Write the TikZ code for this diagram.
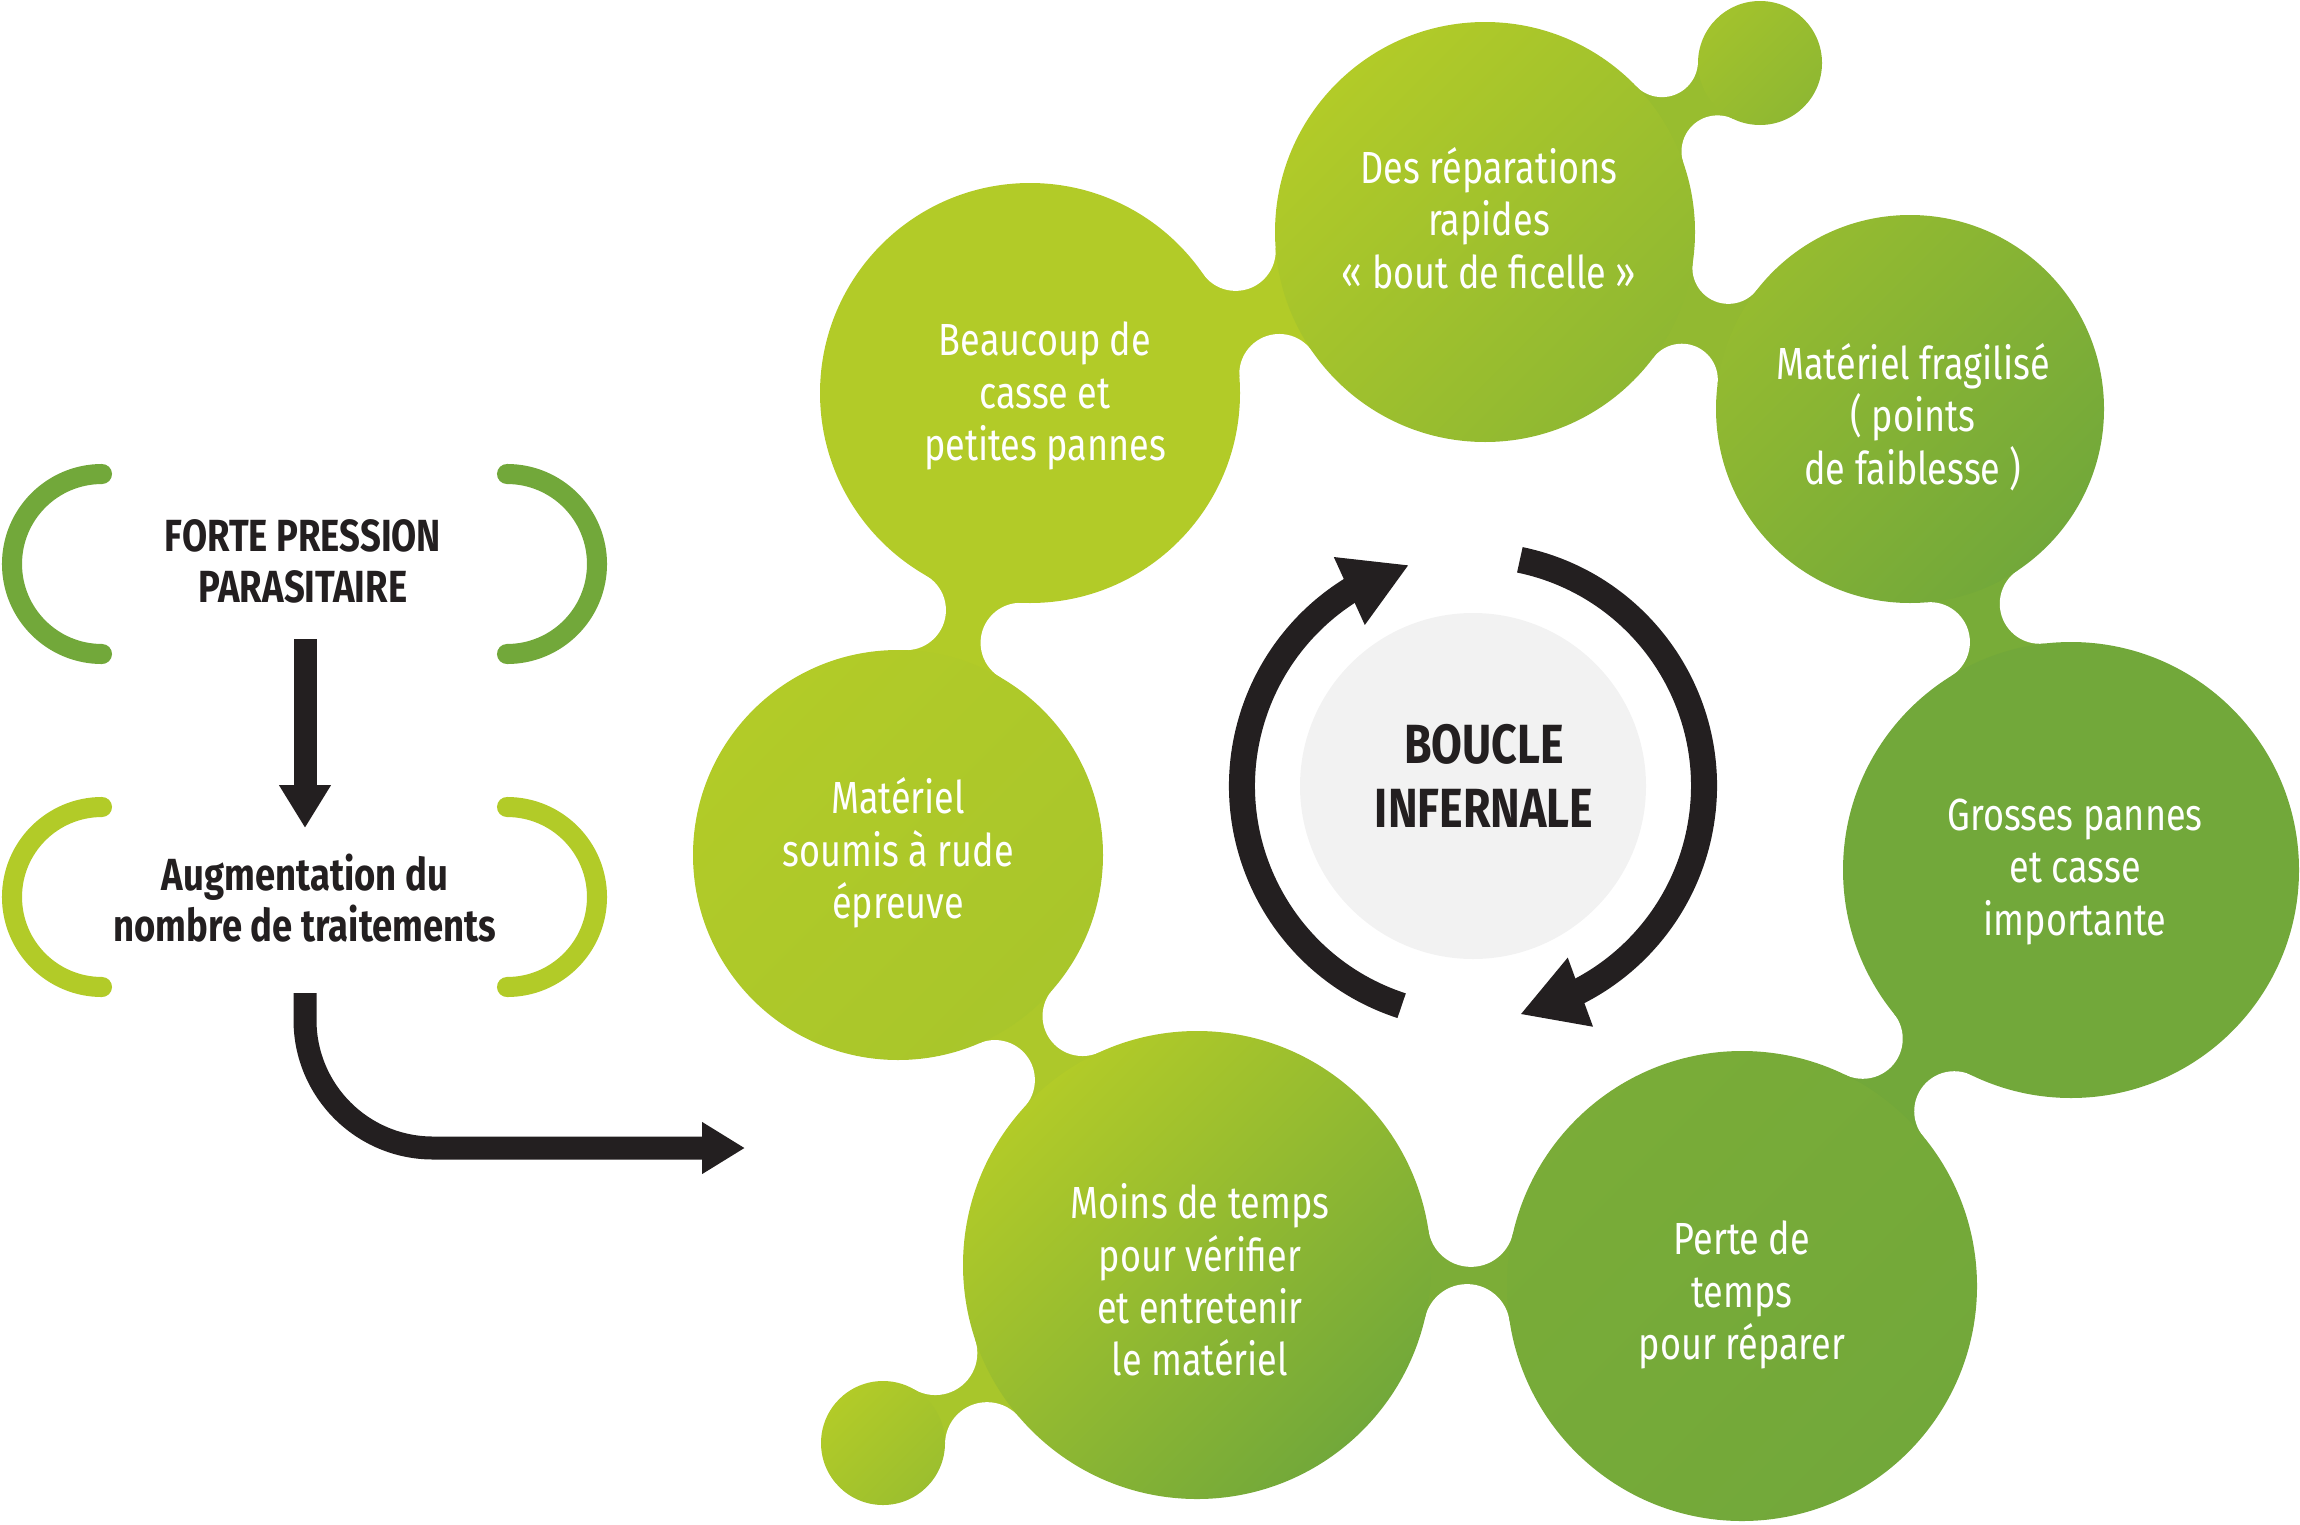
\documentclass[tikz,border=0pt]{standalone}
\usepackage{fontspec}
\setmainfont{Fira Sans}[FakeStretch=0.8]
\newfontfamily\headfont{Fira Sans}[FakeStretch=0.81]
\usetikzlibrary{calc,intersections,arrows.meta}
\definecolor{lg}{HTML}{B2CB28}
\definecolor{dg}{HTML}{72A83A}
\definecolor{ink}{HTML}{231F20}
\definecolor{pale}{HTML}{F2F2F2}

% neck between two circles: #1,#2 centres, #3,#4 radii, #5 cut-out radius, #6 colour, #7 id
\newcommand\blobneck[7]{%
  \path[name path=np#7a] (#1) circle[radius={#3+#5}];
  \path[name path=np#7b] (#2) circle[radius={#4+#5}];
  \path[name intersections={of=np#7a and np#7b, name=cx#7}];
  \fill[#6] (#1) -- (cx#7-1) -- (#2) -- (cx#7-2) -- cycle;
}

\begin{document}
\begin{tikzpicture}[x=0.01cm, y=-0.01cm,
  circtext/.style={text=white, align=center, inner sep=0pt,
    font=\fontsize{12.8}{14.9}\selectfont},
  headtext/.style={text=ink, align=center, inner sep=0pt,
    font=\headfont\bfseries\fontsize{12.8}{14.5}\selectfont},
  bigarrow/.style={draw=ink, line width=6.54pt, -{Triangle[length=12.2pt,width=13.9pt]}},
  loopline/.style={draw=ink, line width=7.4pt},
  bracket/.style={line width=5.7pt, line cap=round},
]
\useasboundingbox (0,0) rectangle (2300,1524);

% circle centres
\coordinate (c1) at (1485,232);
\coordinate (s1) at (1760,63);
\coordinate (c2) at (1030,393);
\coordinate (c3) at (1910,409);
\coordinate (c4) at (898,855);
\coordinate (c5) at (2071,870);
\coordinate (c6) at (1197,1265);
\coordinate (c7) at (1742,1286);
\coordinate (s2) at (883,1443);

% necks
\blobneck{c1}{c2}{210}{210}{40}{lg}{a}
\blobneck{c1}{s1}{210}{62}{36}{lg!60!dg}{b}
\blobneck{c1}{c3}{210}{194}{36}{lg!50!dg}{c}
\blobneck{c2}{c4}{210}{205}{40}{lg}{d}
\blobneck{c3}{c5}{194}{228}{40}{dg!90!lg}{e}
\blobneck{c4}{c6}{205}{234}{40}{lg!92!dg}{f}
\blobneck{c5}{c7}{228}{235}{40}{dg}{g}
\blobneck{c6}{c7}{234}{235}{43}{dg!85!lg}{h}
\blobneck{c6}{s2}{234}{62}{42}{lg!85!dg}{i}

% concave cut-outs
\foreach \k/\r in {a/40,b/36,c/36,d/40,e/40,f/40,g/40,h/43,i/42}{
  \fill[white] (cx\k-1) circle[radius=\r];
  \fill[white] (cx\k-2) circle[radius=\r];
}

% main circles
\shade[top color=lg, bottom color=lg!45!dg, shading angle=45] (c1) circle[radius=210];
\shade[top color=lg!75!dg, bottom color=lg!45!dg, shading angle=45] (s1) circle[radius=62];
\fill[lg] (c2) circle[radius=210];
\shade[top color=lg!55!dg, bottom color=dg, shading angle=45] (c3) circle[radius=194];
\shade[top color=lg, bottom color=lg!85!dg, shading angle=45] (c4) circle[radius=205];
\fill[dg] (c5) circle[radius=228];
\shade[top color=lg, bottom color=dg, shading angle=45] (c6) circle[radius=234];
\shade[top color=dg!88!lg, bottom color=dg, shading angle=45] (c7) circle[radius=235];
\shade[top color=lg, bottom color=lg!65!dg, shading angle=45] (s2) circle[radius=62];

% centre loop
\coordinate (cc) at (1473,786);
\fill[pale] (cc) circle[radius=173];
\draw[loopline] (cc) ++(-252:231) arc[start angle=-252, end angle=-120, radius=231];
\fill[ink] ($(cc)+(-121.3:268)$) -- ($(cc)+(-106.4:230)$) -- ($(cc)+(-123.9:194)$) -- cycle;
\draw[loopline] (cc) ++(-78.3:231) arc[start angle=-78.3, end angle=64, radius=231];
\fill[ink] ($(cc)+(61.1:196)$) -- ($(cc)+(78.1:233)$) -- ($(cc)+(63.5:269)$) -- cycle;
\node[headtext, font=\headfont\bfseries\fontsize{15.7}{18.2}\selectfont] (loop) at (1484,776) {BOUCLE\\INFERNALE};

% circle texts
\node[circtext] (t1) at (1489,218) {Des réparations\\rapides\\« bout de ficelle »};
\node[circtext] (t2) at (1045,396) {Beaucoup de\\casse et\\petites pannes};
\node[circtext] (t3) at (1913,417) {Matériel fragilisé\\( points\\de faiblesse )};
\node[circtext] (t4) at (898,853) {Matériel\\soumis à rude\\épreuve};
\node[circtext] (t5) at (2075,872) {Grosses pannes\\et casse\\importante};
\node[circtext] (t6) at (1200,1280) {Moins de temps\\pour vérifier\\et entretenir\\le matériel};
\node[circtext] (t7) at (1742,1295) {Perte de\\temps\\pour réparer};

% left side
\draw[bracket, dg] (102,474) arc[start angle=-90, end angle=-270, radius=90];
\draw[bracket, dg] (507,474) arc[start angle=-90, end angle=90, radius=90];
\draw[bracket, lg] (102,807) arc[start angle=-90, end angle=-270, radius=90];
\draw[bracket, lg] (507,807) arc[start angle=-90, end angle=90, radius=90];
\node[headtext] (p1) at (303,561) {FORTE PRESSION\\PARASITAIRE};
\node[headtext] (p2) at (305,898) {Augmentation du\\nombre de traitements};

\coordinate (d1) at (305,639);
\coordinate (d2) at (305,828);
\draw[bigarrow] (d1) -- (d2);
\coordinate (l1) at (305,993);
\coordinate (l2) at (745,1148);
\draw[bigarrow, rounded corners=36.4pt] (l1) |- (l2);
\end{tikzpicture}
\end{document}
